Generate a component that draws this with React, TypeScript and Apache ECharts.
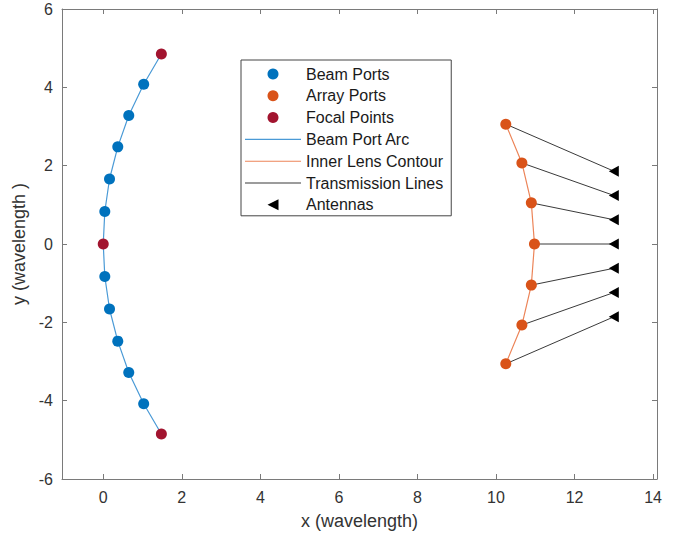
import React, { useEffect, useRef } from "react";
import * as echarts from "echarts";

// Beam ports (upper half, mirrored for the lower half)
const beamPortX = [1.03, 0.65, 0.37, 0.16, 0.04];
const beamPortY = [4.08, 3.28, 2.48, 1.66, 0.83];
// Focal points
const focalX = [1.48, 0, 1.48];
const focalY = [4.85, 0, -4.85];
// Array ports (upper half + center)
const arrayPortX = [10.25, 10.66, 10.9, 10.98];
const arrayPortY = [3.06, 2.07, 1.05, 0];
// Antennas
const antennaX = 13;
const antennaY = [1.86, 1.24, 0.62, 0, -0.62, -1.24, -1.86];
const xTicks = [0, 2, 4, 6, 8, 10, 12, 14];

const FONT = "'Liberation Sans', Arial, Helvetica, sans-serif";

export default function App() {
  const ref = useRef<HTMLDivElement>(null);
  useEffect(() => {
    if (!ref.current) return;
    const chart = echarts.init(ref.current, undefined, { renderer: "svg" });

    const beamPts: number[][] = [];
    beamPortX.forEach((x, i) => beamPts.push([x, beamPortY[i]]));
    for (let i = beamPortX.length - 1; i >= 0; i--) beamPts.push([beamPortX[i], -beamPortY[i]]);
    const focalPts = focalX.map((x, i) => [x, focalY[i]]);

    const arcPts: number[][] = [focalPts[0]];
    beamPortX.forEach((x, i) => arcPts.push([x, beamPortY[i]]));
    arcPts.push(focalPts[1]);
    for (let i = beamPortX.length - 1; i >= 0; i--) arcPts.push([beamPortX[i], -beamPortY[i]]);
    arcPts.push(focalPts[2]);

    const arrayPts: number[][] = [];
    arrayPortX.forEach((x, i) => arrayPts.push([x, arrayPortY[i]]));
    for (let i = arrayPortX.length - 2; i >= 0; i--) arrayPts.push([arrayPortX[i], -arrayPortY[i]]);

    const antennaPts = antennaY.map((y) => [antennaX, y]);

    const txSeries = arrayPts.map((p, i) => ({
      name: "Transmission Lines",
      type: "line",
      data: [p, antennaPts[i]],
      symbol: "none",
      lineStyle: { color: "#3a3a3a", width: 1 },
      itemStyle: { color: "#3a3a3a" },
      z: 2,
    }));

    const axisColor = "#7a7a7a";
    const labelStyle = { fontSize: 16, color: "#333", fontFamily: FONT };

    const option: any = {
      animation: false,
      backgroundColor: "#fff",
      grid: { left: 62, top: 9, right: 29, bottom: 61 },
      legend: {
        orient: "vertical",
        left: 241,
        top: 60,
        padding: [5, 8, 2, 4],
        itemGap: 3.8,
        itemWidth: 56,
        itemHeight: 11,
        backgroundColor: "#fff",
        borderColor: "#444",
        borderWidth: 1,
        borderRadius: 0,
        selectedMode: false,
        textStyle: { fontSize: 16, color: "#1a1a1a", fontFamily: FONT, lineHeight: 18 },
        data: [
          { name: "Beam Ports", icon: "circle" },
          { name: "Array Ports", icon: "circle" },
          { name: "Focal Points", icon: "circle" },
          { name: "Beam Port Arc", icon: "path://M0,0L100,0L100,2L0,2Z" },
          { name: "Inner Lens Contour", icon: "path://M0,0L100,0L100,2L0,2Z" },
          { name: "Transmission Lines", icon: "path://M0,0L100,0L100,2L0,2Z" },
          { name: "Antennas", icon: "path://M0,5L10,0L10,10Z" },
        ],
      },
      xAxis: [
        {
          type: "value",
          position: "bottom",
          min: -1.05,
          max: 14.1,
          axisLine: { show: true, onZero: false, lineStyle: { color: axisColor, width: 1 } },
          axisTick: { show: true, inside: true, length: 5, customValues: xTicks, lineStyle: { color: axisColor } },
          axisLabel: { ...labelStyle, customValues: xTicks, margin: 10 },
          splitLine: { show: false },
          name: "x (wavelength)",
          nameLocation: "middle",
          nameGap: 33,
          nameTextStyle: { fontSize: 18, color: "#333", fontFamily: FONT },
        },
        {
          type: "value",
          position: "top",
          min: -1.05,
          max: 14.1,
          axisLine: { show: true, onZero: false, lineStyle: { color: axisColor, width: 1 } },
          axisTick: { show: true, inside: true, length: 5, customValues: xTicks, lineStyle: { color: axisColor } },
          axisLabel: { show: false },
          splitLine: { show: false },
        },
      ],
      yAxis: [
        {
          type: "value",
          position: "left",
          min: -6,
          max: 6,
          interval: 2,
          axisLine: { show: true, onZero: false, lineStyle: { color: axisColor, width: 1 } },
          axisTick: { show: true, inside: true, length: 5, lineStyle: { color: axisColor } },
          axisLabel: { ...labelStyle, margin: 9 },
          splitLine: { show: false },
          name: "y (wavelength )",
          nameLocation: "middle",
          nameRotate: 90,
          nameGap: 29,
          nameTextStyle: { fontSize: 18, color: "#333", fontFamily: FONT },
        },
        {
          type: "value",
          position: "right",
          min: -6,
          max: 6,
          interval: 2,
          axisLine: { show: true, onZero: false, lineStyle: { color: axisColor, width: 1 } },
          axisTick: { show: true, inside: true, length: 5, lineStyle: { color: axisColor } },
          axisLabel: { show: false },
          splitLine: { show: false },
        },
      ],
      series: [
        {
          name: "Beam Port Arc",
          type: "line",
          data: arcPts,
          symbol: "none",
          lineStyle: { color: "#4a9ad6", width: 1.2 },
          itemStyle: { color: "#4a9ad6" },
          z: 2,
        },
        {
          name: "Inner Lens Contour",
          type: "line",
          data: arrayPts,
          symbol: "none",
          lineStyle: { color: "#ec8458", width: 1.2 },
          itemStyle: { color: "#ec8458" },
          z: 2,
        },
        ...txSeries,
        {
          name: "Beam Ports",
          type: "scatter",
          data: beamPts,
          symbol: "circle",
          symbolSize: 11,
          itemStyle: { color: "#0072BD", opacity: 1 },
          z: 3,
        },
        {
          name: "Array Ports",
          type: "scatter",
          data: arrayPts,
          symbol: "circle",
          symbolSize: 11,
          itemStyle: { color: "#D95319", opacity: 1 },
          z: 3,
        },
        {
          name: "Focal Points",
          type: "scatter",
          data: focalPts,
          symbol: "circle",
          symbolSize: 11,
          itemStyle: { color: "#A2142F", opacity: 1 },
          z: 3,
        },
        {
          name: "Antennas",
          type: "scatter",
          data: antennaPts,
          symbol: "path://M0,5L10,0L10,10Z",
          symbolSize: [10, 11],
          itemStyle: { color: "#000", opacity: 1 },
          z: 3,
        },
      ],
    };
    chart.setOption(option);
    return () => chart.dispose();
  }, []);

  return (
    <div
      ref={ref}
      style={{ position: "fixed", left: 0, top: 0, width: 686, height: 540, background: "#fff" }}
    />
  );
}
